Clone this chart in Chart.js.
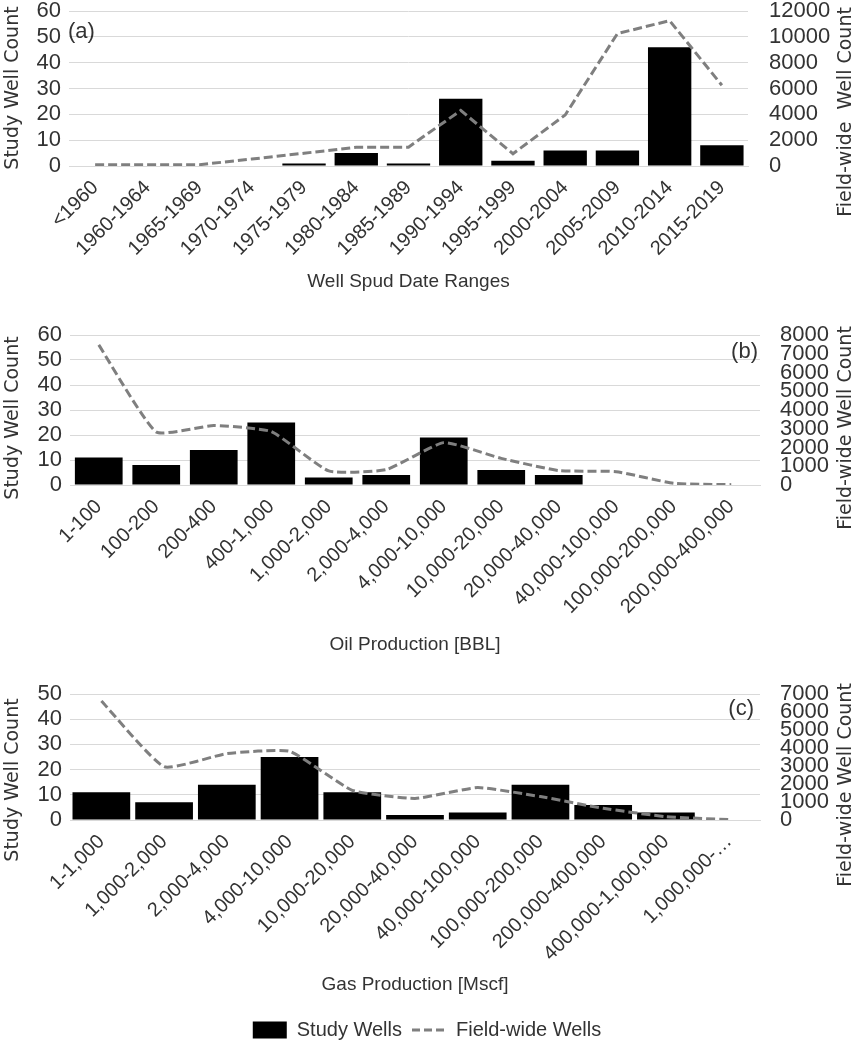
<!DOCTYPE html>
<html lang="en">
<head>
    <meta charset="UTF-8">
    <title>Study wells vs field-wide wells</title>
    <script src="https://cdn.jsdelivr.net/npm/chart.js"></script>
    <style>
      body { margin: 0; background: #fff; }
      #wrap { position: relative; width: 854px; height: 1050px; }
      #wrap canvas { position: absolute; left: 0; }
    </style>
</head>
<body>
<div id="wrap">
    <canvas id="spudChart" width="854" height="298" style="top: 0px;"></canvas>
    <canvas id="oilChart" width="854" height="363" style="top: 298px;"></canvas>
    <canvas id="gasChart" width="854" height="389" style="top: 661px;"></canvas>
</div>

<script>
// (a) well spud date ranges
const spudLabels = ['<1960', '1960-1964', '1965-1969', '1970-1974', '1975-1979', '1980-1984', '1985-1989',
    '1990-1994', '1995-1999', '2000-2004', '2005-2009', '2010-2014', '2015-2019'];
const spudStudy = [0, 0, 0, 0, 1, 5, 1, 26, 2, 6, 6, 46, 8];
const spudField = [100, 100, 100, 540, 990, 1450, 1460, 4300, 950, 3950, 10250, 11250, 6250];

// (b) oil production
const oilLabels = ['1-100', '100-200', '200-400', '400-1,000', '1,000-2,000', '2,000-4,000', '4,000-10,000',
    '10,000-20,000', '20,000-40,000', '40,000-100,000', '100,000-200,000', '200,000-400,000'];
const oilStudy = [11, 8, 14, 25, 3, 4, 19, 6, 4, 0, 0, 0];
const oilField = [7470, 2830, 3170, 2850, 750, 820, 2260, 1420, 770, 710, 90, 20];

// (c) gas production
const gasLabels = ['1-1,000', '1,000-2,000', '2,000-4,000', '4,000-10,000', '10,000-20,000', '20,000-40,000',
    '40,000-100,000', '100,000-200,000', '200,000-400,000', '400,000-1,000,000', '1,000,000-…'];
const gasStudy = [11, 7, 14, 25, 11, 2, 3, 14, 6, 3, 0];
const gasField = [6610, 2960, 3690, 3815, 1650, 1200, 1800, 1300, 650, 185, 20];

const seriesNames = ['Study Wells', 'Field-wide Wells'];

const sans = '"Liberation Sans", Arial, sans-serif';
const txt = '#333';
const gridColor = '#d9d9d9';
const fieldColor = '#7f7f7f';

// panel letters and the rotated axis titles
const panelText = {
    id: 'panelText',
    afterDraw(chart, args, opts) {
        const ctx = chart.ctx;
        ctx.save();
        ctx.fillStyle = txt;
        ctx.textBaseline = 'middle';
        ctx.font = '22px ' + sans;
        ctx.textAlign = opts.tagAlign;
        ctx.fillText(opts.tag, opts.tagX, opts.tagY);
        ctx.font = '19px "DejaVu Sans", sans-serif';
        ctx.textAlign = 'center';
        opts.titles.forEach(t => {
            ctx.save();
            ctx.translate(t.x, t.y);
            ctx.rotate(-Math.PI / 2);
            ctx.fillText(t.text, 0, 0);
            ctx.restore();
        });
        ctx.restore();
    }
};

const plainNumber = v => String(v);

function buildPanel(id, p) {
    return new Chart(document.getElementById(id), {
        type: 'bar',
        data: {
            labels: p.labels,
            datasets: [{
                label: seriesNames[0],
                data: p.study,
                yAxisID: 'y',
                backgroundColor: '#000',
                barPercentage: p.barPct,
                categoryPercentage: 1.0,
                order: 1
            }, {
                type: 'line',
                label: seriesNames[1],
                data: p.field,
                yAxisID: 'y1',
                borderColor: fieldColor,
                borderWidth: 3,
                borderDash: [9, 4],
                pointRadius: 0,
                fill: false,
                tension: p.tension,
                order: 0
            }]
        },
        options: {
            responsive: false,
            animation: false,
            layout: { padding: { top: p.padTop, left: 0, right: 0, bottom: 0 } },
            plugins: {
                tooltip: { enabled: false },
                legend: p.legend || { display: false },
                panelText: p.text
            },
            scales: {
                x: {
                    offset: true,
                    grid: { display: false },
                    border: { color: gridColor },
                    ticks: {
                        autoSkip: false, minRotation: 45, maxRotation: 45, padding: 2,
                        color: txt, font: { family: sans, size: 20 }
                    },
                    title: {
                        display: true, text: p.xTitle, color: txt,
                        font: { family: sans, size: 19 },
                        padding: { top: 0, bottom: p.titlePad }
                    },
                    afterFit: s => { s.height = p.xHeight; s.paddingLeft = 0; s.paddingRight = 0; }
                },
                y: {
                    position: 'left',
                    min: 0, max: p.leftMax,
                    ticks: {
                        stepSize: 10, autoSkip: false, padding: 8, color: txt,
                        font: { family: sans, size: 22 }, callback: plainNumber
                    },
                    grid: { color: gridColor, drawTicks: false },
                    border: { display: false },
                    afterFit: s => { s.width = p.left; s.paddingTop = 0; s.paddingBottom = 0; }
                },
                y1: {
                    position: 'right',
                    min: 0, max: p.rightMax,
                    ticks: {
                        stepSize: p.rightStep, autoSkip: false, padding: p.rightPad, color: txt,
                        font: { family: sans, size: 22 }, callback: plainNumber
                    },
                    grid: { display: false, drawTicks: false },
                    border: { display: false },
                    afterFit: s => { s.width = 854 - p.right; s.paddingTop = 0; s.paddingBottom = 0; }
                }
            }
        },
        plugins: [panelText]
    });
}

buildPanel('spudChart', {
    labels: spudLabels, study: spudStudy, field: spudField,
    barPct: 0.83, tension: 0, padTop: 11, left: 69, right: 748, xHeight: 132, titlePad: 5,
    leftMax: 60, rightMax: 12000, rightStep: 2000, rightPad: 21,
    xTitle: 'Well Spud Date Ranges',
    text: {
        tag: '(a)', tagAlign: 'left', tagX: 68, tagY: 32,
        titles: [{ text: 'Study Well Count', x: 13, y: 88 }, { text: 'Field-wide  Well Count', x: 846, y: 112 }]
    }
});

buildPanel('oilChart', {
    labels: oilLabels, study: oilStudy, field: oilField,
    barPct: 0.83, tension: 0.15, padTop: 37, left: 70, right: 760, xHeight: 176, titlePad: 5,
    leftMax: 60, rightMax: 8000, rightStep: 1000, rightPad: 20,
    xTitle: 'Oil Production [BBL]',
    text: {
        tag: '(b)', tagAlign: 'right', tagX: 758, tagY: 54,
        titles: [{ text: 'Study Well Count', x: 13, y: 120 }, { text: 'Field-wide Well Count', x: 846, y: 130 }]
    }
});

buildPanel('gasChart', {
    labels: gasLabels, study: gasStudy, field: gasField,
    barPct: 0.92, tension: 0.15, padTop: 33, left: 70, right: 760, xHeight: 190, titlePad: 14,
    leftMax: 50, rightMax: 7000, rightStep: 1000, rightPad: 20,
    xTitle: 'Gas Production [Mscf]',
    text: {
        tag: '(c)', tagAlign: 'right', tagX: 754, tagY: 48,
        titles: [{ text: 'Study Well Count', x: 13, y: 119 }, { text: 'Field-wide Well Count', x: 846, y: 124 }]
    },
    legend: {
        display: true,
        position: 'bottom',
        labels: {
            usePointStyle: true,
            pointStyleWidth: 34,
            boxHeight: 17,
            padding: 10,
            color: txt,
            font: { family: sans, size: 20 },
            generateLabels: () => [
                { text: seriesNames[0], fillStyle: '#000', strokeStyle: '#000', lineWidth: 0, pointStyle: 'rect', datasetIndex: 0, fontColor: txt },
                { text: seriesNames[1], fillStyle: 'rgba(0,0,0,0)', strokeStyle: fieldColor, lineWidth: 3, lineDash: [8, 4], pointStyle: 'line', datasetIndex: 1, fontColor: txt }
            ]
        }
    }
});
</script>
</body>
</html>
